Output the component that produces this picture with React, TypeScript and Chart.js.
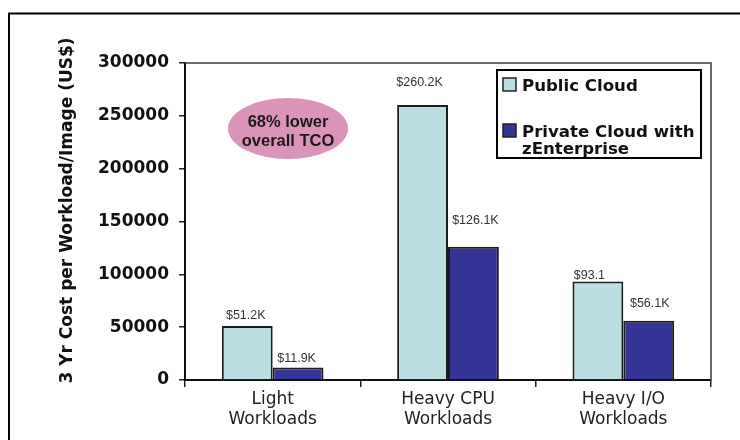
import React, { useEffect, useRef } from 'react';
import { Chart, registerables } from 'chart.js';

Chart.register(...registerables);

// ---- data ----
const categories: string[][] = [
  ['Light', 'Workloads'],
  ['Heavy CPU', 'Workloads'],
  ['Heavy I/O', 'Workloads'],
];
const seriesNames = ['Public Cloud', 'Private Cloud with zEnterprise'];
const publicCloud = [51200, 260200, 93100];
const privateCloud = [11900, 126100, 56100];
const publicLabels = ['$51.2K', '$260.2K', '$93.1'];
const privateLabels = ['$11.9K', '$126.1K', '$56.1K'];
const yMin = 0;
const yMax = 300000;
const yStep = 50000;
const yTitle = '3 Yr Cost per Workload/Image (US$)';
const legendLines: string[][] = [['Public Cloud'], ['Private Cloud with', 'zEnterprise']];
const calloutLines = ['68% lower', 'overall TCO'];

// ---- label nudges (pixels) ----
const labelDx = [
  [-1.5, -3, -8.5],
  [-1.5, 2, 1],
];
const labelDy = [
  [7, 19, 2.5],
  [5.5, 22.5, 14],
];

const colors = ['#b9dfe2', '#353597'];

export default function App() {
  const ref = useRef<HTMLCanvasElement>(null);

  useEffect(() => {
    const canvas = ref.current;
    if (!canvas) return;

    const decor = {
      id: 'decor',
      beforeDraw(chart: any) {
        const { ctx, width, height } = chart;
        ctx.save();
        ctx.fillStyle = '#ffffff';
        ctx.fillRect(0, 0, width, height);
        ctx.strokeStyle = '#000000';
        ctx.lineWidth = 2;
        ctx.beginPath();
        ctx.moveTo(9, height + 4);
        ctx.lineTo(9, 13.5);
        ctx.lineTo(width + 4, 13.5);
        ctx.stroke();
        ctx.restore();
      },
      afterDatasetsDraw(chart: any) {
        const { ctx, chartArea: ca } = chart;
        ctx.save();
        // plot-area frame (top and right)
        ctx.strokeStyle = '#3a3a3a';
        ctx.lineWidth = 1.5;
        ctx.beginPath();
        ctx.moveTo(ca.left, ca.top);
        ctx.lineTo(ca.right, ca.top);
        ctx.lineTo(ca.right, ca.bottom);
        ctx.stroke();

        // value labels
        const labelSets = [publicLabels, privateLabels];
        ctx.font = '12.5px "Liberation Sans", Arial, sans-serif';
        ctx.fillStyle = '#333333';
        ctx.textAlign = 'center';
        ctx.textBaseline = 'alphabetic';
        for (let d = 0; d < 2; d++) {
          const meta = chart.getDatasetMeta(d);
          meta.data.forEach((el: any, i: number) => {
            ctx.fillText(labelSets[d][i], el.x + labelDx[d][i], el.y - labelDy[d][i]);
          });
        }

        // callout ellipse
        const cx = ca.left + 103;
        const cy = ca.top + 65.5;
        ctx.fillStyle = '#da94ba';
        ctx.beginPath();
        ctx.ellipse(cx, cy, 60, 30.5, 0, 0, Math.PI * 2);
        ctx.fill();
        ctx.fillStyle = '#1a1a1a';
        ctx.font = 'bold 16.5px "Liberation Sans", Arial, sans-serif';
        ctx.fillText(calloutLines[0], cx, cy - 1.5);
        ctx.fillText(calloutLines[1], cx, cy + 17.5);

        // legend
        const lx = ca.right - 214;
        const ly = ca.top + 7;
        ctx.fillStyle = '#ffffff';
        ctx.fillRect(lx, ly, 204, 88);
        ctx.strokeStyle = '#000000';
        ctx.lineWidth = 2;
        ctx.strokeRect(lx, ly, 204, 88);
        const swY = [ly + 8, ly + 54];
        const txY = [[ly + 21], [ly + 67, ly + 84]];
        ctx.font = 'bold 16.6px "DejaVu Sans", sans-serif';
        ctx.textAlign = 'left';
        for (let k = 0; k < 2; k++) {
          ctx.fillStyle = colors[k];
          ctx.fillRect(lx + 6, swY[k], 13, 13);
          ctx.strokeStyle = '#222222';
          ctx.lineWidth = 1.5;
          ctx.strokeRect(lx + 6, swY[k], 13, 13);
          ctx.fillStyle = '#111111';
          legendLines[k].forEach((line, j) => ctx.fillText(line, lx + 25, txY[k][j]));
        }

        // y-axis title
        ctx.save();
        ctx.translate(72, (ca.top + ca.bottom) / 2 - 11);
        ctx.rotate(-Math.PI / 2);
        ctx.textAlign = 'center';
        ctx.fillStyle = '#111111';
        ctx.font = 'bold 17px "DejaVu Sans", sans-serif';
        ctx.fillText(yTitle, 0, 0);
        ctx.restore();

        ctx.restore();
      },
    };

    const chart = new Chart(canvas, {
      type: 'bar',
      data: {
        labels: categories,
        datasets: [
          {
            label: seriesNames[0],
            data: publicCloud,
            backgroundColor: colors[0],
            borderColor: '#1c1c1c',
            borderWidth: 2,
            categoryPercentage: 0.58,
            barPercentage: 1,
          },
          {
            label: seriesNames[1],
            data: privateCloud,
            backgroundColor: colors[1],
            borderColor: '#1c1c1c',
            borderWidth: 2,
            categoryPercentage: 0.58,
            barPercentage: 1,
          },
        ],
      },
      options: {
        responsive: false,
        animation: false,
        maintainAspectRatio: false,
        layout: { padding: { top: 63, right: 29, left: 0, bottom: 0 } },
        plugins: {
          legend: { display: false },
          tooltip: { enabled: false },
          title: { display: false },
        },
        scales: {
          x: {
            afterFit: (s: any) => {
              s.height = 60;
            },
            border: { display: true, color: '#111111', width: 2 },
            grid: {
              display: true,
              drawOnChartArea: false,
              drawTicks: true,
              tickLength: 7,
              color: '#222222',
              lineWidth: 1.5,
              offset: true,
            },
            ticks: {
              padding: 2,
              color: '#222222',
              font: { family: '"DejaVu Sans", sans-serif', size: 17, weight: 'normal', lineHeight: 1.2 },
              maxRotation: 0,
              autoSkip: false,
            },
          },
          y: {
            min: yMin,
            max: yMax,
            afterFit: (s: any) => {
              s.width = 185;
            },
            border: { display: true, color: '#111111', width: 2 },
            grid: {
              display: true,
              drawOnChartArea: false,
              drawTicks: true,
              tickLength: 6,
              color: '#222222',
              lineWidth: 1.5,
            },
            ticks: {
              stepSize: yStep,
              padding: 10,
              color: '#111111',
              font: { family: '"DejaVu Sans", sans-serif', size: 17, weight: 'bold' },
              callback: (v: any) => String(v),
            },
          },
        },
      },
      plugins: [decor],
    } as any);

    return () => chart.destroy();
  }, []);

  return (
    <div style={{ position: 'absolute', left: 0, top: 0, width: 740, height: 440, background: '#fff' }}>
      <canvas ref={ref} width={740} height={440} style={{ display: 'block' }} />
    </div>
  );
}
